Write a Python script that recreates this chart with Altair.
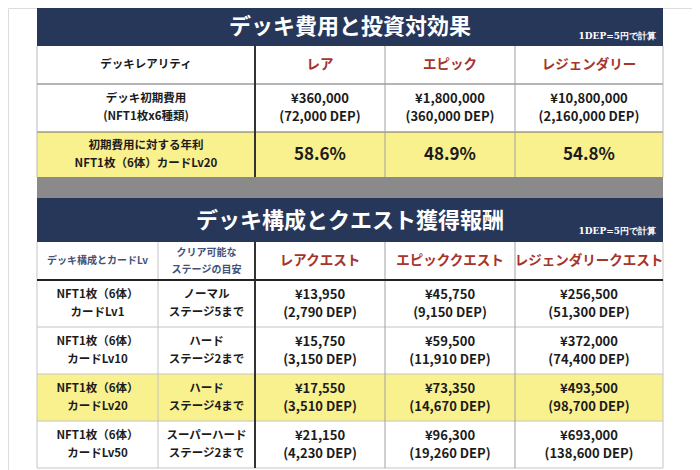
import altair as alt
import pandas as pd

# ---------------- data ----------------
title_cost = "デッキ費用と投資対効果"
title_quest = "デッキ構成とクエスト獲得報酬"
rate_note = "1DEP=5円で計算"

rarity_header = "デッキレアリティ"
rarities = ["レア", "エピック", "レジェンダリー"]
cost_label = "デッキ初期費用\n(NFT1枚x6種類)"
deck_cost_yen = [360000, 1800000, 10800000]
deck_cost_dep = [72000, 360000, 2160000]
yield_label = "初期費用に対する年利\nNFT1枚（6体）カードLv20"
annual_yield = [58.6, 48.9, 54.8]

quest_header_a = "デッキ構成とカードLv"
quest_header_b = "クリア可能な\nステージの目安"
quests = ["レアクエスト", "エピッククエスト", "レジェンダリークエスト"]
deck_levels = ["NFT1枚（6体）\nカードLv1", "NFT1枚（6体）\nカードLv10",
               "NFT1枚（6体）\nカードLv20", "NFT1枚（6体）\nカードLv50"]
stages = ["ノーマル\nステージ5まで", "ハード\nステージ2まで",
          "ハード\nステージ4まで", "スーパーハード\nステージ2まで"]
reward_yen = [[13950, 45750, 256500],
              [15750, 59500, 372000],
              [17550, 73350, 493500],
              [21150, 96300, 693000]]
reward_dep = [[2790, 9150, 51300],
              [3150, 11910, 74400],
              [3510, 14670, 98700],
              [4230, 19260, 138600]]
highlight_row = 2  # Lv20 row

# ---------------- layout (page pixel grid) ----------------
W, H = 700, 470
top_cols = [37, 255, 385, 515, 663]
bot_cols = [37, 158, 255, 385, 515, 663]
top_rows = [8, 46, 84, 132, 177]
gap_rows = [177, 198]
bot_rows = [198, 242, 280, 327, 374, 421, 468]

NAVY = "#27375a"
YELLOW = "#f9f08e"
GRAY = "#8a8a8a"
RED = "#a5342a"
SLATE = "#3f5279"
INK = "#1b1b1b"
FONT = "Noto Sans CJK JP"
SERIF = "DejaVu Serif"


def yen(v):
    return "¥{:,}".format(v)


def dep(v):
    return "({:,} DEP)".format(v)


def mid(a, i):
    return (a[i] + a[i + 1]) / 2


# rectangles
rects = [
    dict(x=top_cols[0], x2=top_cols[-1], y=top_rows[0], y2=top_rows[1], fill=NAVY),
    dict(x=top_cols[0], x2=top_cols[-1], y=top_rows[1], y2=top_rows[3], fill="#ffffff"),
    dict(x=top_cols[0], x2=top_cols[-1], y=top_rows[3], y2=top_rows[4], fill=YELLOW),
    dict(x=top_cols[0], x2=top_cols[-1], y=gap_rows[0], y2=gap_rows[1], fill=GRAY),
    dict(x=bot_cols[0], x2=bot_cols[-1], y=bot_rows[0], y2=bot_rows[1], fill=NAVY),
    dict(x=bot_cols[0], x2=bot_cols[-1], y=bot_rows[1], y2=bot_rows[-1], fill="#ffffff"),
    dict(x=bot_cols[0], x2=bot_cols[-1], y=bot_rows[2 + highlight_row],
         y2=bot_rows[3 + highlight_row], fill=YELLOW),
]
rect_df = pd.DataFrame(rects)

# rules
rules = []
for yv in top_rows[2:4]:
    rules.append(dict(x=top_cols[0], x2=top_cols[-1], y=yv, y2=yv, c="#6b6b6b", w=1))
for xv in [top_cols[0], top_cols[-1]]:
    rules.append(dict(x=xv, x2=xv, y=top_rows[1], y2=top_rows[-1], c="#b8b8b8", w=1))
for xv in top_cols[2:4]:
    rules.append(dict(x=xv, x2=xv, y=top_rows[1], y2=top_rows[-1], c="#a0a0a0", w=1))
rules.append(dict(x=top_cols[1], x2=top_cols[1], y=top_rows[1], y2=top_rows[-1], c="#333333", w=2))
for yv in bot_rows[3:]:
    rules.append(dict(x=bot_cols[0], x2=bot_cols[-1], y=yv, y2=yv, c="#c4c4c4", w=1))
for xv in [bot_cols[0], bot_cols[1], bot_cols[-1]]:
    rules.append(dict(x=xv, x2=xv, y=bot_rows[1], y2=bot_rows[-1], c="#c4c4c4", w=1))
for xv in bot_cols[3:5]:
    rules.append(dict(x=xv, x2=xv, y=bot_rows[1], y2=bot_rows[-1], c="#a0a0a0", w=1))
rules.append(dict(x=bot_cols[2], x2=bot_cols[2], y=bot_rows[1], y2=bot_rows[-1], c="#333333", w=2))
rules.append(dict(x=bot_cols[0], x2=bot_cols[-1], y=bot_rows[2], y2=bot_rows[2], c="#222222", w=2))
rule_df = pd.DataFrame(rules)

# texts grouped by style
titles = [dict(x=350, y=27, t=title_cost), dict(x=350, y=221, t=title_quest)]
notes = [dict(x=656, y=36, t=rate_note), dict(x=656, y=231, t=rate_note)]
labels = [dict(x=mid(top_cols, 0), y=mid(top_rows, 2), t=cost_label),
          dict(x=mid(top_cols, 0), y=mid(top_rows, 3), t=yield_label)]
for r in range(len(deck_levels)):
    labels.append(dict(x=mid(bot_cols, 0), y=mid(bot_rows, 2 + r), t=deck_levels[r]))
    labels.append(dict(x=mid(bot_cols, 1), y=mid(bot_rows, 2 + r), t=stages[r]))
single_labels = [dict(x=mid(top_cols, 0), y=mid(top_rows, 1), t=rarity_header)]
slate_a = [dict(x=mid(bot_cols, 0), y=mid(bot_rows, 1), t=quest_header_a)]
slate_b = [dict(x=mid(bot_cols, 1), y=mid(bot_rows, 1), t=quest_header_b)]
reds, values, pcts = [], [], []
for i in range(3):
    reds.append(dict(x=mid(top_cols, 1 + i), y=mid(top_rows, 1), t=rarities[i]))
    reds.append(dict(x=mid(bot_cols, 2 + i), y=mid(bot_rows, 1), t=quests[i]))
    values.append(dict(x=mid(top_cols, 1 + i), y=mid(top_rows, 2),
                       t=yen(deck_cost_yen[i]) + "\n" + dep(deck_cost_dep[i])))
    pcts.append(dict(x=mid(top_cols, 1 + i), y=mid(top_rows, 3), t="{:.1f}%".format(annual_yield[i])))
    for r in range(len(reward_yen)):
        values.append(dict(x=mid(bot_cols, 2 + i), y=mid(bot_rows, 2 + r),
                           t=yen(reward_yen[r][i]) + "\n" + dep(reward_dep[r][i])))

xs = alt.Scale(domain=[8, W - 8], nice=False, zero=False)
ys = alt.Scale(domain=[8, H], nice=False, zero=False, reverse=True)
X = alt.X("x:Q", scale=xs, axis=None)
Y = alt.Y("y:Q", scale=ys, axis=None)

rect_layer = alt.Chart(rect_df).mark_rect().encode(
    x=X, x2="x2:Q", y=Y, y2="y2:Q", fill=alt.Fill("fill:N", scale=None))
rule_layer = alt.Chart(rule_df).mark_rule().encode(
    x=X, x2="x2:Q", y=Y, y2="y2:Q",
    color=alt.Color("c:N", scale=None), strokeWidth=alt.StrokeWidth("w:Q", scale=None))


def text_layer(rows, two_lines=False, **kw):
    base = dict(font=FONT, baseline="middle", lineBreak="\n")
    base.update(kw)
    if two_lines:
        base["dy"] = -kw.get("lineHeight", 17) / 2
    return alt.Chart(pd.DataFrame(rows)).mark_text(**base).encode(x=X, y=Y, text="t:N")


layers = [
    rect_layer,
    rule_layer,
    text_layer(titles, fontSize=22, fontWeight="bold", color="#ffffff"),
    text_layer(notes, font=SERIF, fontSize=9, fontWeight="bold", color="#ffffff", align="right"),
    text_layer(single_labels, fontSize=11.5, fontWeight="bold", color=INK),
    text_layer(labels, two_lines=True, fontSize=11.5, fontWeight="bold", color=INK, lineHeight=18),
    text_layer(slate_a, fontSize=10, fontWeight="bold", color=SLATE),
    text_layer(slate_b, two_lines=True, fontSize=10, fontWeight="bold", color=SLATE, lineHeight=17),
    text_layer(reds, fontSize=13.5, fontWeight="bold", color=RED),
    text_layer(values, two_lines=True, fontSize=13, fontWeight="bold", color=INK, lineHeight=18),
    text_layer(pcts, fontSize=17, fontWeight="bold", color=INK),
]

chart = alt.layer(*layers).properties(
    width=W - 16, height=H - 8, padding=0, autosize=alt.AutoSizeParams(type="none")
).configure_view(stroke=None).configure(background="#ffffff")

chart.save("out.html", embed_options={"renderer": "svg", "actions": False})
